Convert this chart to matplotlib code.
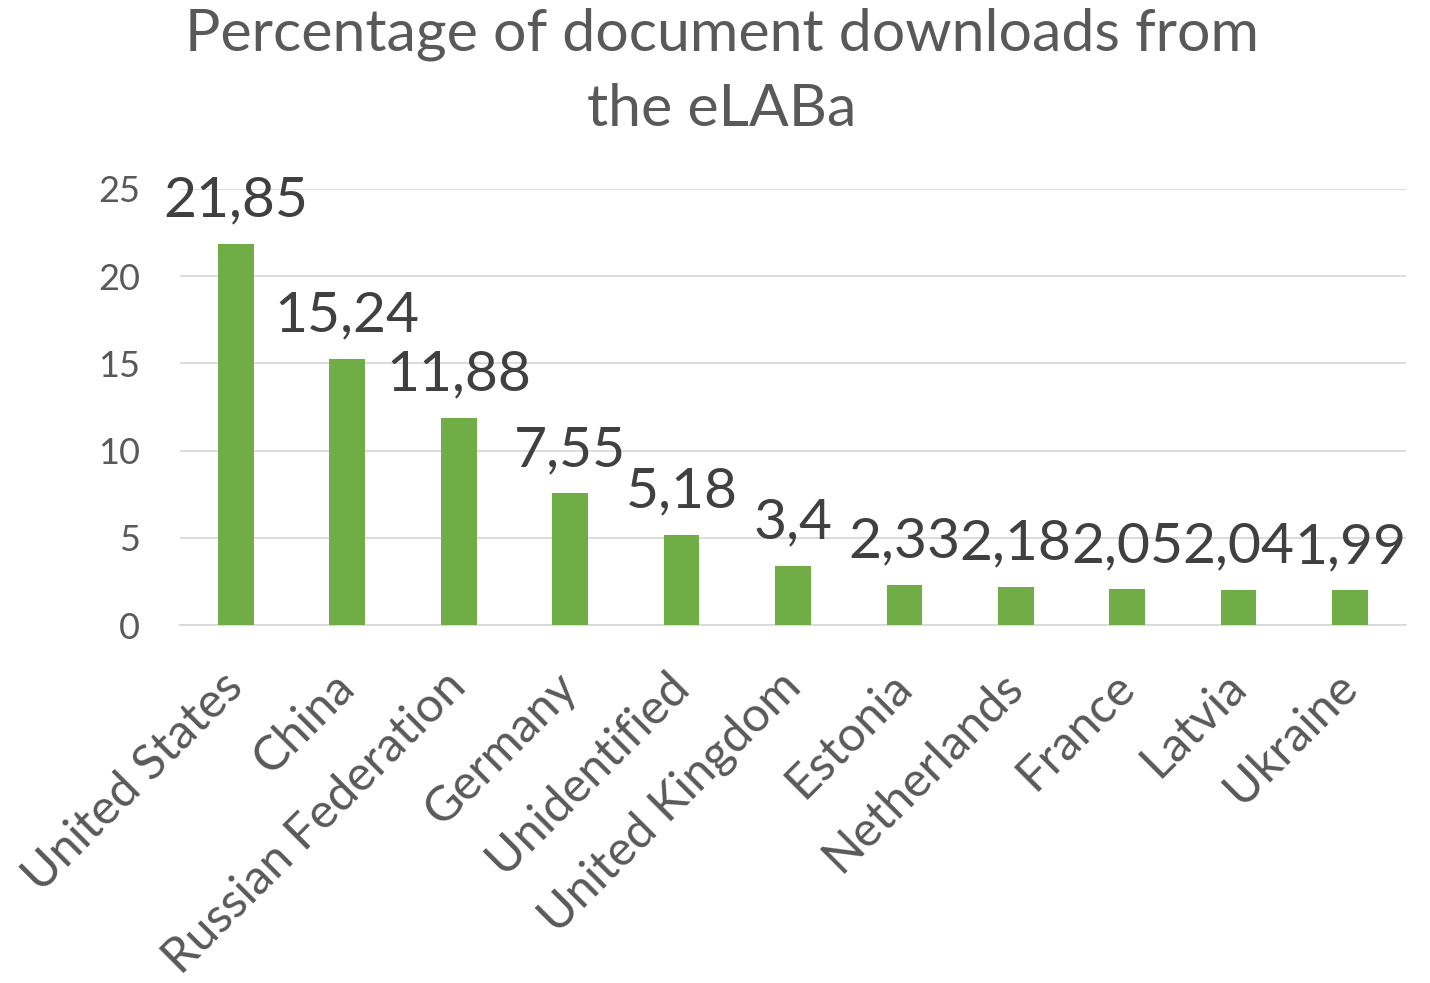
import matplotlib.pyplot as plt

plt.rcParams['font.family'] = ['Lato', 'DejaVu Sans']

countries = ["United States", "China", "Russian Federation", "Germany", "Unidentified",
             "United Kingdom", "Estonia", "Netherlands", "France", "Latvia", "Ukraine"]
percent = [21.85, 15.24, 11.88, 7.55, 5.18, 3.4, 2.33, 2.18, 2.05, 2.04, 1.99]
yticks = [0, 5, 10, 15, 20, 25]

fig = plt.figure(figsize=(14.30, 9.83), dpi=100)
ax = fig.add_axes([0.126, 0.364, 0.857, 0.444])

x = range(len(countries))
ax.bar(x, percent, width=0.32, color='#70AD47', zorder=3)

for i, v in zip(x, percent):
    ax.text(i, v + 1.0, f"{v:g}".replace('.', ','), ha='center', va='bottom',
            fontsize=41, color='#404040', zorder=4)

ax.set_xlim(-0.5, len(countries) - 0.5)
ax.set_ylim(0, 25)
ax.set_yticks(yticks)
ax.set_yticklabels([str(t) for t in yticks], fontsize=26, color='#595959')
ax.set_xticks(list(x))
ax.set_xticklabels(countries, rotation=45, ha='right', va='center', rotation_mode='anchor',
                   fontsize=35, color='#595959')
ax.tick_params(axis='both', length=0)
ax.tick_params(axis='y', pad=29)
ax.tick_params(axis='x', pad=39)
ax.grid(axis='y', color='#D9D9D9', linewidth=1.3, zorder=0)
for s in ['top', 'right', 'left']:
    ax.spines[s].set_visible(False)
ax.spines['bottom'].set_color('#D9D9D9')
ax.spines['bottom'].set_linewidth(1.3)

fig.text(0.505, 0.992, "Percentage of document downloads from\nthe eLABa", ha='center', va='top',
         fontsize=42.5, color='#595959', linespacing=1.5)

fig.savefig("out.png", dpi=100)
